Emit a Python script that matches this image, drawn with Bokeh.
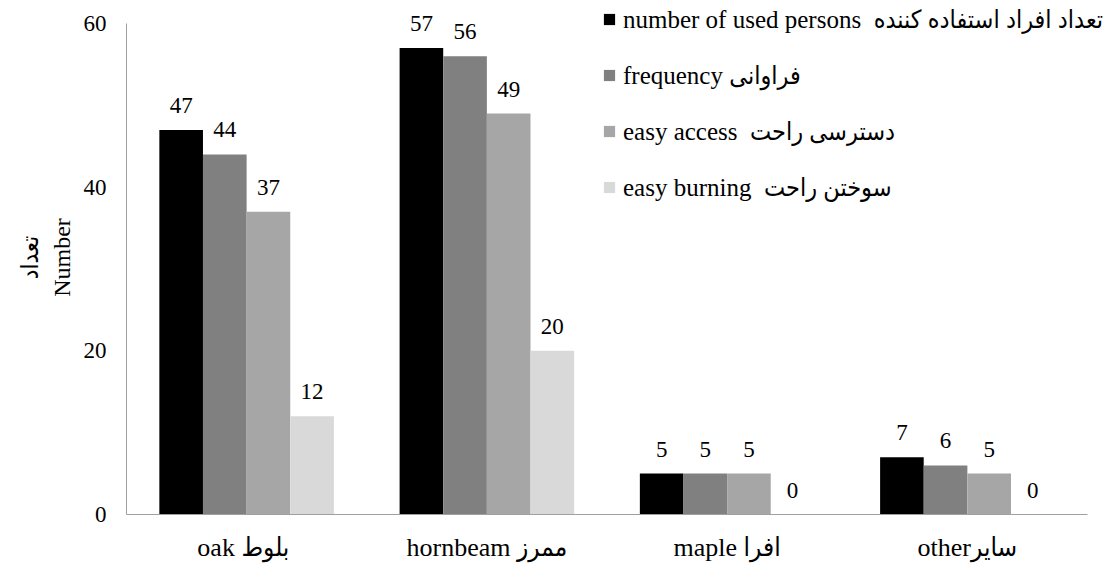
from bokeh.plotting import figure
from bokeh.models import ColumnDataSource, FixedTicker, LabelSet, Legend, LegendItem, Range1d
from bokeh.transform import dodge
from bokeh.embed import file_html
from bokeh.resources import INLINE

categories = ["oak  بلوط", "hornbeam ممرز", "maple افرا", "otherسایر"]
used_persons = [47, 57, 5, 7]
frequency = [44, 56, 5, 6]
easy_access = [37, 49, 5, 5]
easy_burning = [12, 20, 0, 0]
series_labels = [
    "number of used persons  تعداد افراد استفاده کننده",
    "frequency فراوانی",
    "easy access  دسترسی راحت",
    "easy burning  سوختن راحت",
]
y_ticks = [0, 20, 40, 60]

colors = ["#000000", "#808080", "#a6a6a6", "#d9d9d9"]
offsets = [-0.2725, -0.0908, 0.0908, 0.2725]
bar_w = 0.1815
FONT = "Liberation Serif, DejaVu Sans Condensed, DejaVu Sans"

n = len(categories)
x_pos = [i + 0.5 for i in range(n)]
series = [used_persons, frequency, easy_access, easy_burning]
data = {"x": x_pos, "cat": categories}
for i, s in enumerate(series):
    data[f"s{i}"] = s
    data[f"t{i}"] = [str(v) for v in s]
source = ColumnDataSource(data)

p = figure(
    x_range=Range1d(0, n + 0.1082),
    y_range=Range1d(0, 62.81),
    width=1113, height=566,
    output_backend="svg", toolbar_location=None,
    min_border_left=126, min_border_right=0, min_border_top=0, min_border_bottom=52,
)
p.title = None

items = []
for i in range(4):
    r = p.vbar(x=dodge("x", offsets[i]), top=f"s{i}", width=bar_w,
               source=source, fill_color=colors[i], line_color=None)
    items.append(LegendItem(label=series_labels[i], renderers=[r]))
    lbl = LabelSet(x=dodge("x", offsets[i]), y=f"s{i}", text=f"t{i}",
                   source=source, text_align="center", text_baseline="alphabetic",
                   y_offset=17, text_font=FONT, text_font_size="23px", text_color="black")
    p.add_layout(lbl)

legend = Legend(items=items, location=(476, 312), padding=0, margin=0, spacing=26,
                glyph_width=14, glyph_height=14, label_height=30, label_standoff=7,
                label_text_font=FONT, label_text_font_size="25px", label_text_color="black",
                border_line_color=None, background_fill_alpha=0)
p.add_layout(legend)

p.grid.grid_line_color = None
p.outline_line_color = None

p.yaxis.ticker = FixedTicker(ticks=y_ticks)
p.yaxis.bounds = (0, 60)
p.xaxis.ticker = FixedTicker(ticks=x_pos)
p.xaxis.major_label_overrides = {x: c for x, c in zip(x_pos, categories)}
p.xaxis.bounds = (0, n)
for ax in (p.xaxis[0], p.yaxis[0]):
    ax.axis_line_color = "#a0a0a0"
    ax.major_tick_line_color = None
    ax.minor_tick_line_color = None
    ax.major_tick_out = 0
    ax.major_tick_in = 0
    ax.major_label_text_font = FONT
    ax.major_label_text_color = "black"

p.yaxis.major_label_text_font_size = "23px"
p.yaxis.major_label_standoff = 20
p.yaxis.axis_label = "تعداد\nNumber"
p.yaxis.axis_label_text_font = FONT
p.yaxis.axis_label_text_font_size = "24px"
p.yaxis.axis_label_text_font_style = "normal"
p.yaxis.axis_label_text_color = "black"
p.yaxis.axis_label_standoff = 6

p.xaxis.major_label_text_font_size = "26px"
p.xaxis.major_label_standoff = 18

open("out.html", "w").write(file_html(p, INLINE))
